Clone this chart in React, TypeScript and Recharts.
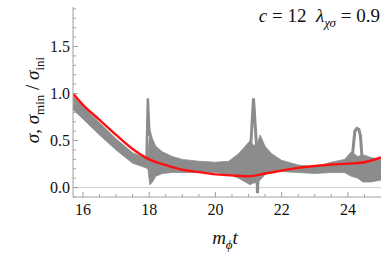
import React from 'react';
import { ComposedChart, Area, Line, XAxis, YAxis, ReferenceLine } from 'recharts';

// gray band (envelope of the fast oscillation)
const bandT = [15.7, 16.0, 16.5, 17.0, 17.5, 17.9, 17.96, 18.02, 18.1, 18.2, 18.4, 18.7, 19.0, 19.5, 20.0, 20.4, 20.7, 20.9, 21.05, 21.15, 21.25, 21.35, 21.5, 21.7, 22.0, 22.5, 23.0, 23.5, 23.9, 24.1, 24.3, 24.45, 24.7, 25.0];
const bandLo = [0.83, 0.73, 0.56, 0.40, 0.26, 0.21, 0.2, 0.03, 0.06, 0.12, 0.15, 0.16, 0.16, 0.16, 0.16, 0.14, 0.1, 0.06, 0.03, 0.05, 0.05, 0.08, 0.14, 0.17, 0.17, 0.16, 0.15, 0.16, 0.16, 0.12, 0.1, 0.06, 0.06, 0.08];
const bandHi = [0.97, 0.86, 0.69, 0.52, 0.37, 0.31, 0.32, 0.62, 0.52, 0.44, 0.38, 0.33, 0.3, 0.28, 0.27, 0.28, 0.36, 0.44, 0.5, 0.45, 0.45, 0.56, 0.44, 0.36, 0.29, 0.24, 0.22, 0.27, 0.3, 0.38, 0.33, 0.35, 0.32, 0.3];

// spikes
const spike1T = [17.92, 17.96, 18.01];
const spike1V = [0.3, 0.95, 0.55];
const spike2T = [21.06, 21.15, 21.24, 21.27, 21.3];
const spike2V = [0.4, 0.95, 0.45, -0.06, 0.2];
const spike3T = [24.14, 24.21, 24.27, 24.33, 24.38, 24.43];
const spike3V = [0.35, 0.6, 0.63, 0.62, 0.55, 0.3];

// red curve
const redT = [15.7, 16.0, 16.5, 17.0, 17.5, 18.0, 18.5, 19.0, 19.5, 20.0, 20.5, 21.0, 21.5, 22.0, 22.5, 23.0, 23.5, 24.0, 24.5, 25.0];
const redV = [1.0, 0.88, 0.72, 0.56, 0.41, 0.3, 0.24, 0.19, 0.165, 0.14, 0.13, 0.12, 0.15, 0.18, 0.21, 0.23, 0.245, 0.255, 0.27, 0.32];

const xTicks = [16, 16.5, 17, 17.5, 18, 18.5, 19, 19.5, 20, 20.5, 21, 21.5, 22, 22.5, 23, 23.5, 24, 24.5];
const xMajor = [16, 18, 20, 22, 24];
const yTicks = [-0.1, 0, 0.1, 0.2, 0.3, 0.4, 0.5, 0.6, 0.7, 0.8, 0.9, 1.0, 1.1, 1.2, 1.3, 1.4, 1.5, 1.6, 1.7, 1.8, 1.9];
const yMajor = [0, 0.5, 1.0, 1.5];

const bandData = bandT.map((t, i) => ({ t, range: [bandLo[i], bandHi[i]] }));
const redData = redT.map((t, i) => ({ t, v: redV[i] }));
const s1 = spike1T.map((t, i) => ({ t, v: spike1V[i] }));
const s2 = spike2T.map((t, i) => ({ t, v: spike2V[i] }));
const s3 = spike3T.map((t, i) => ({ t, v: spike3V[i] }));

const serif = 'Liberation Serif, Times New Roman, DejaVu Serif, serif';
const frame = '#a0a0a0';
const gray = '#8c8c8c';
const isMajor = (list: number[], v: number) => list.some((m) => Math.abs(m - v) < 1e-6);

const XTick = (dir: number, labels: boolean) => (props: any) => {
  const { x, y, payload } = props;
  const major = isMajor(xMajor, payload.value);
  return (
    <g>
      <line x1={x} x2={x} y1={y} y2={y + dir * (major ? 5 : 3)} stroke={frame} />
      {labels && major && (
        <text x={x} y={y + 18} textAnchor="middle" fontFamily={serif} fontSize={16} fill="#111">
          {payload.value}
        </text>
      )}
    </g>
  );
};

const YTick = (dir: number, labels: boolean) => (props: any) => {
  const { x, y, payload } = props;
  const major = isMajor(yMajor, payload.value);
  return (
    <g>
      <line x1={x} x2={x + dir * (major ? 5 : 3)} y1={y} y2={y} stroke={frame} />
      {labels && major && (
        <text x={x - 3} y={y + 5} textAnchor="end" fontFamily={serif} fontSize={16} fill="#111">
          {payload.value.toFixed(1)}
        </text>
      )}
    </g>
  );
};

export default function App() {
  return (
    <div style={{ position: 'absolute', left: 0, top: 0, width: 389, height: 253, background: '#fff' }}>
      <ComposedChart width={389} height={253} margin={{ top: 7, right: 8, left: 0, bottom: 0 }}>
        <XAxis dataKey="t" type="number" domain={[15.7, 25]} ticks={xTicks} allowDataOverflow
          height={56} tickSize={0} tickMargin={0} stroke={frame} tick={XTick(-1, true)} interval={0} />
        <XAxis xAxisId="top" orientation="top" dataKey="t" type="number" domain={[15.7, 25]} ticks={xTicks}
          allowDataOverflow height={0} tickSize={0} tickMargin={0} stroke={frame} tick={XTick(1, false)} interval={0} />
        <YAxis type="number" domain={[-0.1, 1.92]} ticks={yTicks} allowDataOverflow width={73}
          tickSize={0} tickMargin={0} stroke={frame} tick={YTick(1, true)} interval={0} />
        <YAxis yAxisId="right" orientation="right" type="number" domain={[-0.1, 1.92]} ticks={yTicks}
          allowDataOverflow width={0} tickSize={0} tickMargin={0} stroke={frame} tick={YTick(-1, false)} interval={0} />
        <ReferenceLine y={0} stroke="#cfcfcf" strokeWidth={1} />
        <Area data={bandData} dataKey="range" type="linear" stroke={gray} strokeWidth={0.8} fill={gray} fillOpacity={1} isAnimationActive={false} />
        <Line data={s1} dataKey="v" type="linear" stroke={gray} strokeWidth={2.5} dot={false} isAnimationActive={false} />
        <Line data={s2} dataKey="v" type="linear" stroke={gray} strokeWidth={3} dot={false} isAnimationActive={false} />
        <Line data={s3} dataKey="v" type="linear" stroke={gray} strokeWidth={3} dot={false} isAnimationActive={false} />
        <Line data={redData} dataKey="v" type="monotone" stroke="#ff1010" strokeWidth={2.4} dot={false} isAnimationActive={false} />
      </ComposedChart>
      <div style={{ position: 'absolute', right: 9, top: 5, fontFamily: serif, fontSize: 19, whiteSpace: 'nowrap', color: '#111' }}>
        <i>c</i> = 12&nbsp; <i>λ</i><sub style={{ fontSize: 13 }}><i>χσ</i></sub> = 0.9
      </div>
      <div style={{ position: 'absolute', left: 225, top: 240, transform: 'translate(-50%, -50%)', fontFamily: serif, fontSize: 19, whiteSpace: 'nowrap', color: '#111' }}>
        <i>m</i><sub style={{ fontSize: 13 }}><i>ϕ</i></sub><i>t</i>
      </div>
      <div style={{ position: 'absolute', left: 35, top: 100, transform: 'translate(-50%, -50%) rotate(-90deg)', fontFamily: serif, fontSize: 19, whiteSpace: 'nowrap', color: '#111' }}>
        <i>σ</i>, <i>σ</i><sub style={{ fontSize: 13 }}>min</sub> / <i>σ</i><sub style={{ fontSize: 13 }}>ini</sub>
      </div>
    </div>
  );
}
